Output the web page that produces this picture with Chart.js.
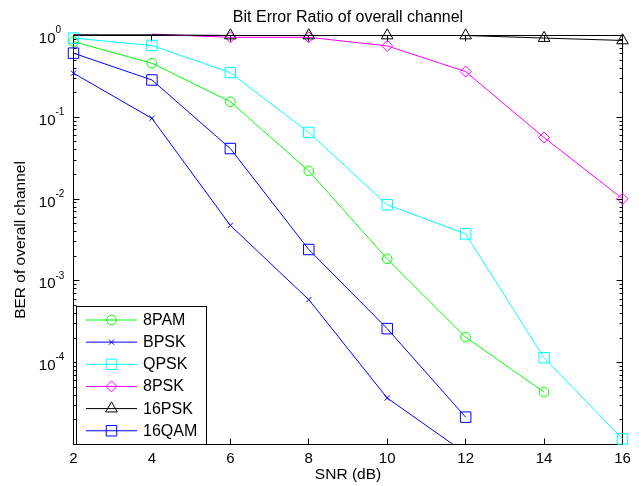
<!DOCTYPE html>
<html><head><meta charset="utf-8">
<script src="https://cdn.jsdelivr.net/npm/chart.js@4/dist/chart.umd.min.js"></script>
<style>html,body{margin:0;padding:0;background:#fff}#wrap{width:639px;height:486px;position:relative}</style>
</head><body><div id="wrap"><canvas id="c" width="639" height="486"></canvas></div>
<script>
const snr = [2, 4, 6, 8, 10, 12, 14, 16];
const xTicks = [2, 4, 6, 8, 10, 12, 14, 16];
const yTickValues = [1, 0.1, 0.01, 0.001, 0.0001];
const yTickBase = '10';
const yTickExponents = ['0', '-1', '-2', '-3', '-4'];
const seriesNames = ['8PAM', 'BPSK', 'QPSK', '8PSK', '16PSK', '16QAM'];
const ber8PAM  = [0.84, 0.458, 0.155, 0.0221, 0.00186, 0.000205, 0.0000437, null];
const berBPSK  = [0.346, 0.097, 0.00477, 0.00059, 0.000037, 0.0000078, null, null];
const berQPSK  = [0.93, 0.754, 0.352, 0.0653, 0.00853, 0.00376, 0.000115, 0.0000117];
const ber8PSK  = [null, 1.04, 0.95, 0.95, 0.746, 0.362, 0.0566, 0.0101];
const ber16PSK = [1.02, 1.02, 1.0, 1.0, 1.0, 1.0, 0.93, 0.87];
const ber16QAM = [0.608, 0.286, 0.0415, 0.00242, 0.000261, 0.0000216, null, null];

const FONT = 'Liberation Sans, Arial, Helvetica, sans-serif';

function series(label, vals, color, style, radius, clip) {
  return {
    label: label,
    data: snr.map((x, i) => ({ x: x, y: vals[i] })),
    borderColor: color,
    backgroundColor: 'rgba(0,0,0,0)',
    borderWidth: 1,
    pointStyle: style,
    pointRadius: ctx => (ctx.raw && ctx.raw.y > 1) ? 0 : radius,
    pointBorderWidth: 1,
    pointBorderColor: color,
    pointBackgroundColor: 'rgba(0,0,0,0)',
    tension: 0,
    spanGaps: false,
    clip: clip
  };
}
const noClip = false;
const datasets = [
  series(seriesNames[0], ber8PAM, '#00ff00', 'circle', 4.8, noClip),
  series(seriesNames[1], berBPSK, '#0000ff', 'crossRot', 3.7, { left: 10, right: 10, top: 10, bottom: 0 }),
  series(seriesNames[2], berQPSK, '#00ffff', 'rect', 7.4, noClip),
  series(seriesNames[3], ber8PSK, '#ff00ff', 'rectRot', 5.5, noClip),
  series(seriesNames[4], ber16PSK, '#000000', 'triangle', 6.7, noClip),
  series(seriesNames[5], ber16QAM, '#0000ff', 'rect', 7.4, noClip)
];
// MATLAB-like: later series drawn on top
datasets.forEach((d, i) => { d.order = datasets.length - i; });

const axesBox = {
  id: 'axesBox',
  beforeDatasetsDraw(chart) {
    const { ctx, chartArea: a, scales: { x, y } } = chart;
    ctx.save();
    ctx.strokeStyle = '#000';
    ctx.lineWidth = 1;
    ctx.strokeRect(a.left, a.top, a.right - a.left, a.bottom - a.top);
    ctx.beginPath();
    xTicks.forEach(v => {
      const px = Math.round(x.getPixelForValue(v) - 0.5) + 0.5;
      ctx.moveTo(px, a.bottom); ctx.lineTo(px, a.bottom - 6);
      ctx.moveTo(px, a.top); ctx.lineTo(px, a.top + 6);
    });
    for (let e = -5; e <= 0; e++) {
      for (let m = 1; m <= 9; m++) {
        const v = m * Math.pow(10, e);
        if (v > 1.0000001) break;
        const py = Math.round(y.getPixelForValue(v) - 0.5) + 0.5;
        const len = m === 1 ? 6 : 3;
        ctx.moveTo(a.left, py); ctx.lineTo(a.left + len, py);
        ctx.moveTo(a.right, py); ctx.lineTo(a.right - len, py);
      }
    }
    ctx.stroke();
    // y tick labels: base with raised exponent, placed through the y scale
    ctx.fillStyle = '#000';
    ctx.textBaseline = 'alphabetic';
    yTickValues.forEach((v, i) => {
      const py = y.getPixelForValue(v);
      ctx.font = '15px ' + FONT;
      ctx.textAlign = 'right';
      ctx.fillText(yTickBase, 55.5, py + 7.5);
      ctx.font = '10px ' + FONT;
      ctx.textAlign = 'left';
      ctx.fillText(yTickExponents[i], 55.5, py - 2.3);
    });
    ctx.restore();
  }
};

const boxLegend = {
  id: 'boxLegend',
  afterDraw(chart) {
    const ctx = chart.ctx;
    const L = 76.5, T = 306.5, R = 206.5, B = 444.5;
    ctx.save();
    ctx.fillStyle = '#fff';
    ctx.fillRect(L, T, R - L, B - T);
    ctx.strokeStyle = '#000';
    ctx.lineWidth = 1;
    ctx.strokeRect(L, T, R - L, B - T);
    chart.data.datasets.forEach((d, i) => {
      const yy = 320 + i * 22.15;
      ctx.strokeStyle = d.borderColor;
      ctx.lineWidth = 1;
      ctx.beginPath();
      ctx.moveTo(86, yy); ctx.lineTo(137, yy);
      ctx.stroke();
      ctx.fillStyle = 'rgba(0,0,0,0)';
      const r = typeof d.pointRadius === 'function' ? d.pointRadius({ raw: { y: 0.5 } }) : d.pointRadius;
      Chart.helpers.drawPoint(ctx, { pointStyle: d.pointStyle, radius: r, rotation: 0, borderWidth: 1 }, 111.5, yy);
      ctx.fillStyle = '#000';
      ctx.font = '16px ' + FONT;
      ctx.textBaseline = 'middle';
      ctx.textAlign = 'left';
      ctx.fillText(d.label, 143, yy + 0.5);
    });
    ctx.restore();
  }
};

new Chart(document.getElementById('c'), {
  type: 'line',
  data: { datasets: datasets },
  options: {
    responsive: false,
    animation: false,
    devicePixelRatio: 1,
    events: [],
    layout: { padding: { left: 0, right: 16.5, top: 0, bottom: 0 } },
    plugins: {
      legend: { display: false },
      tooltip: { enabled: false },
      title: {
        display: true,
        text: 'Bit Error Ratio of overall channel',
        fullSize: false,
        color: '#000',
        font: { family: FONT, size: 16, weight: 'normal' },
        padding: { top: 7.5, bottom: 8.8 }
      }
    },
    scales: {
      x: {
        type: 'linear', min: 2, max: 16,
        afterBuildTicks: s => { s.ticks = xTicks.map(v => ({ value: v })); },
        grid: { display: false, drawTicks: false, tickLength: 0 },
        border: { display: false },
        ticks: { color: '#000', font: { family: FONT, size: 15 }, padding: 5.5, maxRotation: 0, autoSkip: false },
        title: { display: true, text: 'SNR (dB)', color: '#000', font: { family: FONT, size: 15.5 }, padding: { top: 0, bottom: 2 } },
        afterFit: s => { s.height = 41.5; }
      },
      y: {
        type: 'logarithmic', min: 1e-5, max: 1,
        afterBuildTicks: s => { s.ticks = yTickValues.map(v => ({ value: v })); },
        grid: { display: false, drawTicks: false, tickLength: 0 },
        border: { display: false },
        ticks: { display: false },
        title: { display: true, text: 'BER of overall channel', color: '#000', font: { family: FONT, size: 15.5 }, padding: { top: 11.5, bottom: 0 } },
        afterFit: s => { s.width = 73.5; }
      }
    }
  },
  plugins: [axesBox, boxLegend]
});
</script>
</body></html>
